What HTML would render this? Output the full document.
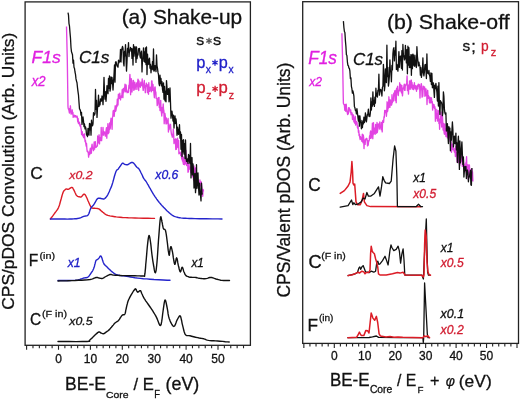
<!DOCTYPE html>
<html><head><meta charset="utf-8"><style>
html,body{margin:0;padding:0;background:#fff;width:520px;height:400px;overflow:hidden;}
svg{display:block;font-family:"Liberation Sans",sans-serif;will-change:transform;}
</style></head><body>
<svg width="520" height="400" viewBox="0 0 520 400" font-family="Liberation Sans, sans-serif"><rect width="520" height="400" fill="#fff"/><rect x="25.1" y="1.9" width="225.3" height="343.4" fill="none" stroke="#222" stroke-width="1.3"/><rect x="302.7" y="1.7" width="215.8" height="341.7" fill="none" stroke="#222" stroke-width="1.3"/><path d="M26.60 345.3 V349.8M32.98 345.3 V348.3M39.36 345.3 V348.3M45.74 345.3 V348.3M52.12 345.3 V348.3M58.50 345.3 V349.8M64.88 345.3 V348.3M71.26 345.3 V348.3M77.64 345.3 V348.3M84.02 345.3 V348.3M90.40 345.3 V349.8M96.78 345.3 V348.3M103.16 345.3 V348.3M109.54 345.3 V348.3M115.92 345.3 V348.3M122.30 345.3 V349.8M128.68 345.3 V348.3M135.06 345.3 V348.3M141.44 345.3 V348.3M147.82 345.3 V348.3M154.20 345.3 V349.8M160.58 345.3 V348.3M166.96 345.3 V348.3M173.34 345.3 V348.3M179.72 345.3 V348.3M186.10 345.3 V349.8M192.48 345.3 V348.3M198.86 345.3 V348.3M205.24 345.3 V348.3M211.62 345.3 V348.3M218.00 345.3 V349.8M224.38 345.3 V348.3M230.76 345.3 V348.3M237.14 345.3 V348.3M243.52 345.3 V348.3" stroke="#222" stroke-width="1.1" fill="none"/><path d="M303.85 343.4 V347.9M309.94 343.4 V346.4M316.03 343.4 V346.4M322.12 343.4 V346.4M328.21 343.4 V346.4M334.30 343.4 V347.9M340.39 343.4 V346.4M346.48 343.4 V346.4M352.57 343.4 V346.4M358.66 343.4 V346.4M364.75 343.4 V347.9M370.84 343.4 V346.4M376.93 343.4 V346.4M383.02 343.4 V346.4M389.11 343.4 V346.4M395.20 343.4 V347.9M401.29 343.4 V346.4M407.38 343.4 V346.4M413.47 343.4 V346.4M419.56 343.4 V346.4M425.65 343.4 V347.9M431.74 343.4 V346.4M437.83 343.4 V346.4M443.92 343.4 V346.4M450.01 343.4 V346.4M456.10 343.4 V347.9M462.19 343.4 V346.4M468.28 343.4 V346.4M474.37 343.4 V346.4M480.46 343.4 V346.4M486.55 343.4 V347.9M492.64 343.4 V346.4M498.73 343.4 V346.4M504.82 343.4 V346.4M510.91 343.4 V346.4M517.00 343.4 V347.9" stroke="#222" stroke-width="1.1" fill="none"/><g font-size="12" fill="#111" stroke="#111" stroke-width="0.3"><text x="58.50" y="362.65" text-anchor="middle">0</text><text x="90.40" y="362.65" text-anchor="middle">10</text><text x="122.30" y="362.65" text-anchor="middle">20</text><text x="154.20" y="362.65" text-anchor="middle">30</text><text x="186.10" y="362.65" text-anchor="middle">40</text><text x="218.00" y="362.65" text-anchor="middle">50</text><text x="334.30" y="360.45" text-anchor="middle">0</text><text x="364.75" y="360.45" text-anchor="middle">10</text><text x="395.20" y="360.45" text-anchor="middle">20</text><text x="425.65" y="360.45" text-anchor="middle">30</text><text x="456.10" y="360.45" text-anchor="middle">40</text><text x="486.55" y="360.45" text-anchor="middle">50</text></g><path d="M66.5 26.5L67.3 60.0L67.8 95.0L68.0 107.0L68.3 108.9L68.7 109.4L69.0 110.7L69.4 113.0L69.7 108.5L70.1 110.0L70.4 105.8L70.8 111.8L71.1 114.1L71.5 112.6L71.8 113.8L72.2 109.8L72.5 113.8L72.9 112.3L73.2 117.4L73.6 116.2L73.9 116.6L74.3 115.1L74.6 116.6L75.0 117.0L75.3 115.6L75.7 115.7L76.0 116.9L76.4 116.5L76.7 117.2L77.1 116.1L77.4 118.5L77.8 121.9L78.1 118.5L78.5 123.6L78.8 121.9L79.2 122.9L79.5 122.4L79.9 125.5L80.2 126.3L80.6 124.8L80.9 127.8L81.3 130.1L81.6 134.6L82.0 132.8L82.3 131.7L82.7 135.8L83.0 134.3L83.4 136.8L83.7 137.7L84.1 136.4L84.4 133.8L84.8 138.5L85.1 141.7L85.5 140.5L85.8 143.6L86.2 146.1L86.5 143.3L86.9 149.1L87.2 151.3L87.6 150.9L87.9 152.1L88.3 152.8L88.6 157.1L89.0 152.1L89.3 152.4L89.7 154.6L90.0 150.3L90.4 148.1L90.7 149.8L91.1 153.3L91.4 153.1L91.8 146.0L92.1 144.2L92.5 148.7L92.8 148.6L93.2 148.6L93.5 150.6L93.9 145.8L94.2 141.9L94.6 149.1L94.9 142.5L95.3 141.7L95.6 146.3L96.0 147.4L96.3 147.1L96.7 146.1L97.0 146.3L97.4 145.8L97.7 136.0L98.1 139.2L98.4 142.9L98.8 142.9L99.1 134.8L99.5 143.9L99.8 137.6L100.2 137.9L100.5 139.3L100.9 140.5L101.2 127.5L101.6 140.6L101.9 136.9L102.3 133.4L102.6 134.8L103.0 127.5L103.3 132.7L103.7 135.2L104.0 131.6L104.4 132.6L104.7 132.8L105.1 133.0L105.4 136.1L105.8 131.9L106.1 130.6L106.5 127.6L106.8 138.2L107.2 129.0L107.5 131.7L107.9 123.7L108.2 133.7L108.6 130.7L108.9 132.6L109.3 127.0L109.6 122.9L110.0 129.2L110.3 128.0L110.7 121.4L111.0 118.3L111.4 124.3L111.7 121.1L112.1 129.3L112.4 117.4L112.8 116.7L113.1 111.2L113.5 110.4L113.8 112.0L114.2 116.3L114.5 112.3L114.9 109.3L115.2 105.8L115.6 111.3L115.9 110.5L116.3 108.1L116.6 104.9L117.0 106.6L117.3 99.2L117.7 101.3L118.0 105.1L118.4 94.2L118.7 96.0L119.1 98.3L119.4 97.9L119.8 93.2L120.1 97.9L120.5 99.9L120.8 97.2L121.2 95.9L121.5 97.6L121.9 95.6L122.2 89.6L122.6 92.6L122.9 97.6L123.3 88.5L123.6 92.5L124.0 90.5L124.3 88.3L124.7 87.6L125.0 84.2L125.4 91.8L125.7 91.5L126.1 84.9L126.4 88.8L126.8 90.8L127.1 92.7L127.5 91.4L127.8 91.8L128.2 92.5L128.5 91.3L128.9 85.2L129.2 88.1L129.6 79.9L129.9 74.4L130.3 81.3L130.6 94.7L131.0 83.0L131.3 78.7L131.7 84.5L132.0 92.0L132.4 86.2L132.7 87.6L133.1 80.4L133.4 80.4L133.8 90.3L134.1 88.6L134.5 85.3L134.8 82.2L135.2 89.3L135.5 84.6L135.9 86.3L136.2 86.2L136.6 82.9L136.9 89.4L137.3 84.6L137.6 82.9L138.0 79.1L138.3 80.5L138.7 90.5L139.0 80.9L139.4 86.6L139.7 83.7L140.1 86.8L140.4 87.2L140.8 82.2L141.1 84.0L141.5 85.5L141.8 85.6L142.2 78.9L142.5 84.2L142.9 87.7L143.2 90.3L143.6 87.6L143.9 83.0L144.3 80.5L144.6 86.1L145.0 87.7L145.3 92.7L145.7 85.4L146.0 86.3L146.4 83.2L146.7 85.5L147.1 84.6L147.4 92.5L147.8 88.0L148.1 85.0L148.5 94.2L148.8 82.6L149.2 90.7L149.5 91.4L149.9 90.0L150.2 87.2L150.6 87.9L150.9 87.4L151.3 91.8L151.6 80.9L152.0 80.9L152.3 90.5L152.7 88.3L153.0 84.3L153.4 90.3L153.7 89.0L154.1 95.0L154.4 97.7L154.8 87.2L155.1 86.9L155.5 93.8L155.8 91.9L156.2 98.4L156.5 98.2L156.9 98.7L157.2 105.6L157.6 104.6L157.9 102.4L158.3 97.6L158.6 102.3L159.0 97.5L159.3 107.4L159.7 105.0L160.0 110.5L160.4 107.5L160.7 100.4L161.1 110.6L161.4 112.5L161.8 116.0L162.1 107.4L162.5 108.4L162.8 112.7L163.2 104.0L163.5 109.1L163.9 110.9L164.2 123.7L164.6 114.0L164.9 113.4L165.3 116.2L165.6 118.5L166.0 123.9L166.3 118.0L166.7 123.7L167.0 121.7L167.4 122.9L167.7 120.8L168.1 118.5L168.4 132.0L168.8 123.8L169.1 129.8L169.5 125.8L169.8 127.4L170.2 127.9L170.5 124.3L170.9 129.8L171.2 132.3L171.6 134.8L171.9 134.4L172.3 137.2L172.6 135.5L173.0 135.3L173.3 129.1L173.7 135.2L174.0 143.6L174.4 139.3L174.7 142.6L175.1 139.8L175.4 138.9L175.8 149.5L176.1 139.2L176.5 149.2L176.8 146.5L177.2 144.3L177.5 138.1L177.9 147.3L178.2 142.1L178.6 140.5L178.9 153.8L179.3 152.8L179.6 153.4L180.0 152.1L180.3 152.7L180.7 155.3L181.0 155.2L181.4 155.7L181.7 159.0L182.1 148.3L182.4 161.1L182.8 156.4L183.1 162.5L183.5 164.3L183.8 157.7L184.2 164.2L184.5 164.7L184.9 159.8L185.2 161.0L185.6 163.8L185.9 150.3L186.3 162.7L186.6 165.5L187.0 163.7L187.3 160.0L187.7 164.8L188.0 172.2L188.4 172.0L188.7 163.5L189.1 165.3L189.4 168.6L189.8 169.2L190.1 167.1L190.5 168.8L190.8 172.7L191.2 168.3L191.5 162.7L191.9 175.3L192.2 167.7L192.6 176.8L192.9 173.1L193.3 175.2L193.6 180.0L194.0 165.9L194.3 180.8L194.7 176.2L195.0 169.5L195.4 168.0L195.7 178.3L196.1 174.1L196.4 182.0L196.8 174.8L197.1 179.1L197.5 183.8L197.8 181.6L198.2 184.2L198.5 185.2L198.9 184.0L199.2 186.3L199.6 187.0L199.9 179.9L200.3 184.5L200.6 185.7L201.0 185.5L201.3 181.9L201.7 186.3L202.0 190.3L202.4 190.6L202.7 196.3L203.1 189.5L203.4 191.0L203.8 191.4" fill="none" stroke="#e244e2" stroke-width="1.35" stroke-linejoin="round"/><path d="M68.0 12.6L68.5 15.1L69.0 23.6L69.5 26.2L70.0 32.5L70.5 38.3L71.0 47.5L71.5 51.8L72.0 53.2L72.5 54.7L73.0 63.2L73.5 60.1L74.0 67.3L74.5 68.4L75.0 72.0L75.5 74.4L76.0 78.9L76.5 81.1L77.0 82.8L77.5 87.6L78.0 91.7L78.5 95.2L79.0 102.4L79.5 108.9L80.0 109.5L80.5 111.0L81.0 115.2L81.5 112.4L82.0 124.4L82.5 119.7L83.0 117.0L83.5 121.0L84.0 126.7L84.5 124.0L85.0 128.9L85.5 127.0L86.0 128.8L86.5 135.0L87.0 134.0L87.5 136.5L88.0 128.3L88.5 132.6L89.0 135.1L89.5 123.5L90.0 129.8L90.5 124.0L91.0 135.2L91.5 120.2L92.0 125.2L92.5 125.8L93.0 123.8L93.5 112.7L94.0 114.4L94.5 115.0L95.0 113.6L95.5 89.5L96.0 109.3L96.5 100.3L97.0 117.4L97.5 108.0L98.0 105.8L98.5 95.2L99.0 106.4L99.5 102.3L100.0 104.9L100.5 98.9L101.0 101.4L101.5 100.6L102.0 96.0L102.5 97.7L103.0 104.7L103.5 94.9L104.0 77.3L104.5 92.4L105.0 99.1L105.5 91.6L106.0 101.3L106.5 94.2L107.0 85.6L107.5 88.7L108.0 93.7L108.5 78.5L109.0 88.4L109.5 75.9L110.0 91.1L110.5 88.1L111.0 77.0L111.5 83.7L112.0 77.3L112.5 82.2L113.0 90.0L113.5 82.2L114.0 74.8L114.5 65.0L115.0 82.2L115.5 62.3L116.0 61.8L116.5 63.5L117.0 65.9L117.5 66.3L118.0 67.2L118.5 60.1L119.0 62.8L119.5 61.0L120.0 61.3L120.5 49.3L121.0 62.0L121.5 50.7L122.0 48.3L122.5 46.3L123.0 48.2L123.5 62.7L124.0 65.9L124.5 51.4L125.0 55.8L125.5 44.6L126.0 57.9L126.5 71.1L127.0 61.6L127.5 48.5L128.0 52.2L128.5 42.6L129.0 56.5L129.5 50.5L130.0 51.2L130.5 47.3L131.0 49.6L131.5 48.6L132.0 58.4L132.5 48.9L133.0 65.0L133.5 44.6L134.0 56.1L134.5 50.6L135.0 46.7L135.5 51.0L136.0 62.4L136.5 47.0L137.0 58.7L137.5 55.0L138.0 55.0L138.5 48.7L139.0 50.4L139.5 48.4L140.0 56.2L140.5 58.0L141.0 53.2L141.5 51.2L142.0 71.9L142.5 59.2L143.0 57.8L143.5 47.8L144.0 61.3L144.5 51.9L145.0 62.3L145.5 47.8L146.0 64.6L146.5 46.9L147.0 74.6L147.5 54.1L148.0 64.5L148.5 59.3L149.0 64.1L149.5 58.1L150.0 68.2L150.5 64.5L151.0 72.8L151.5 66.5L152.0 69.2L152.5 61.6L153.0 69.8L153.5 48.9L154.0 71.2L154.5 70.0L155.0 65.6L155.5 66.6L156.0 71.6L156.5 54.8L157.0 65.5L157.5 68.3L158.0 72.4L158.5 74.6L159.0 83.5L159.5 85.7L160.0 75.2L160.5 83.6L161.0 78.5L161.5 85.9L162.0 81.7L162.5 89.4L163.0 92.3L163.5 82.8L164.0 99.2L164.5 86.3L165.0 100.8L165.5 91.5L166.0 101.8L166.5 80.6L167.0 87.9L167.5 94.4L168.0 89.7L168.5 88.7L169.0 101.8L169.5 95.0L170.0 88.0L170.5 102.8L171.0 118.2L171.5 111.4L172.0 111.2L172.5 115.9L173.0 121.0L173.5 115.1L174.0 128.0L174.5 118.8L175.0 116.0L175.5 123.5L176.0 118.9L176.5 123.7L177.0 135.3L177.5 127.2L178.0 130.1L178.5 134.4L179.0 131.7L179.5 124.7L180.0 138.2L180.5 131.9L181.0 149.3L181.5 134.5L182.0 156.6L182.5 140.4L183.0 151.9L183.5 139.7L184.0 154.0L184.5 143.6L185.0 158.5L185.5 139.9L186.0 155.8L186.5 161.4L187.0 161.4L187.5 159.0L188.0 163.4L188.5 154.5L189.0 155.6L189.5 161.7L190.0 163.7L190.5 143.5L191.0 177.9L191.5 158.9L192.0 157.5L192.5 174.9L193.0 163.8L193.5 169.9L194.0 188.0L194.5 179.3L195.0 173.4L195.5 192.7L196.0 186.5L196.5 164.7L197.0 188.3L197.5 176.9L198.0 172.9L198.5 186.8L199.0 195.0L199.5 183.1L200.0 191.5L200.5 195.1L201.0 200.9L201.5 183.2L202.0 194.1L202.5 193.3" fill="none" stroke="#111" stroke-width="1.3" stroke-linejoin="round"/><path d="M50.4 219.0L50.9 218.3L51.7 217.3L52.6 216.1L53.5 214.8L54.4 213.6L55.2 212.5L56.1 211.4L57.0 210.2L57.8 209.0L58.5 207.6L59.1 206.0L59.7 204.2L60.2 202.3L60.7 200.5L61.2 198.8L61.6 197.3L62.0 195.8L62.4 194.4L62.8 193.2L63.2 192.1L63.7 191.2L64.2 190.5L64.8 190.0L65.3 189.5L65.9 189.2L66.4 189.0L67.0 189.1L67.5 189.2L68.0 189.3L68.6 189.2L69.2 188.9L69.9 188.4L70.6 187.9L71.3 187.5L71.9 187.4L72.4 187.6L72.8 188.0L73.1 188.6L73.5 189.3L73.9 190.1L74.4 191.1L74.9 192.3L75.5 193.5L76.0 194.6L76.6 195.5L77.2 196.0L77.7 196.4L78.3 196.6L78.8 196.7L79.3 196.8L79.7 196.9L80.1 197.0L80.5 197.1L80.9 197.0L81.3 196.8L81.8 196.4L82.4 195.7L82.9 195.0L83.5 194.4L84.0 194.1L84.4 194.2L84.8 194.4L85.2 194.8L85.6 195.5L86.0 196.2L86.5 197.2L87.0 198.3L87.6 199.7L88.1 201.0L88.7 202.2L89.2 203.4L89.7 204.6L90.3 205.8L90.8 206.8L91.4 207.6L92.0 208.0L92.7 208.2L93.4 208.3L94.1 208.2L94.8 208.3L95.6 208.4L96.4 208.4L97.2 208.5L98.0 208.6L98.8 208.9L99.6 209.4L100.4 210.1L101.3 210.9L102.1 211.6L102.9 212.3L103.7 212.9L104.4 213.5L105.2 214.1L106.0 214.6L106.9 215.0L107.9 215.4L108.8 215.6L109.9 215.9L111.1 216.1L112.3 216.3L113.6 216.5L114.9 216.7L116.3 216.9L118.0 217.1L120.0 217.3L122.5 217.5L125.3 217.6L128.3 217.8L131.6 217.9L135.0 218.0L138.9 218.1L143.4 218.2L147.9 218.3L151.8 218.4L154.5 218.4" fill="none" stroke="#dc1c26" stroke-width="1.4" stroke-linejoin="round" stroke-linecap="round"/><path d="M50.4 219.0L51.7 219.0L53.4 219.0L55.5 219.0L57.8 219.0L60.0 219.0L62.3 219.0L64.8 219.0L67.4 219.1L69.8 219.0L71.9 219.0L73.6 218.9L75.0 218.8L76.3 218.7L77.4 218.5L78.6 218.3L79.8 218.0L80.9 217.6L82.0 217.1L83.0 216.7L84.0 216.3L84.9 216.1L85.8 216.0L86.6 215.9L87.4 215.6L88.1 215.0L88.7 214.0L89.3 212.6L89.7 211.1L90.2 209.6L90.8 208.3L91.4 207.3L92.1 206.5L92.8 205.8L93.5 205.0L94.1 204.2L94.7 203.2L95.3 202.2L95.8 201.2L96.3 200.2L96.8 199.5L97.2 199.0L97.6 198.6L97.9 198.4L98.3 198.3L98.8 198.2L99.4 198.2L100.1 198.3L100.9 198.5L101.6 198.7L102.2 198.8L102.7 198.9L103.1 199.0L103.4 199.0L103.8 199.0L104.2 198.8L104.7 198.5L105.2 198.1L105.8 197.6L106.3 196.9L106.9 196.2L107.4 195.3L108.0 194.3L108.5 193.2L109.1 192.0L109.6 190.8L110.1 189.5L110.7 188.2L111.3 186.9L111.8 185.5L112.3 184.0L112.8 182.4L113.2 180.8L113.7 179.1L114.1 177.5L114.5 176.0L114.9 174.7L115.3 173.4L115.7 172.3L116.1 171.3L116.5 170.5L116.8 170.0L117.1 169.8L117.4 169.6L117.7 169.5L118.0 169.2L118.4 168.7L118.8 168.1L119.3 167.5L119.7 166.8L120.2 166.2L120.7 165.5L121.1 164.8L121.6 164.1L122.0 163.5L122.5 163.2L122.9 163.2L123.3 163.4L123.8 163.7L124.2 164.1L124.7 164.3L125.3 164.5L125.9 164.6L126.5 164.7L127.1 164.8L127.7 164.7L128.2 164.5L128.7 164.2L129.1 163.8L129.6 163.5L130.0 163.2L130.4 163.0L130.8 162.8L131.1 162.6L131.4 162.5L131.8 162.5L132.2 162.5L132.5 162.5L132.9 162.6L133.2 162.8L133.7 163.2L134.2 163.8L134.9 164.6L135.5 165.5L136.1 166.3L136.7 167.0L137.2 167.5L137.7 167.8L138.1 168.1L138.5 168.4L139.0 169.0L139.5 169.8L140.0 170.7L140.5 171.7L141.0 172.8L141.5 173.8L142.0 174.8L142.5 175.8L142.9 176.9L143.4 177.8L143.9 178.7L144.4 179.4L144.9 180.0L145.3 180.6L145.9 181.2L146.4 182.0L147.0 183.0L147.6 184.1L148.3 185.2L148.9 186.4L149.6 187.6L150.3 188.7L150.9 189.9L151.6 191.1L152.2 192.2L152.9 193.3L153.5 194.3L154.2 195.3L154.8 196.3L155.5 197.3L156.1 198.2L156.7 199.1L157.4 200.0L158.0 200.8L158.7 201.7L159.4 202.6L160.2 203.5L161.0 204.5L161.8 205.4L162.7 206.3L163.5 207.2L164.3 208.0L165.1 208.8L165.8 209.6L166.6 210.4L167.5 211.2L168.4 212.0L169.4 212.9L170.4 213.8L171.4 214.6L172.4 215.3L173.4 215.8L174.3 216.3L175.2 216.6L176.2 216.9L177.3 217.2L178.4 217.5L179.6 217.7L180.8 217.9L182.2 218.1L183.8 218.2L185.5 218.3L187.2 218.4L189.2 218.5L191.7 218.5L195.0 218.6L199.8 218.7L206.0 218.8L212.4 218.9L218.1 218.9L222.0 219.0" fill="none" stroke="#2424cc" stroke-width="1.4" stroke-linejoin="round" stroke-linecap="round"/><path d="M58.0 280.5L59.7 280.5L62.1 280.5L64.9 280.5L67.7 280.5L70.0 280.5L71.9 280.4L73.7 280.4L75.4 280.3L76.8 280.1L78.0 280.0L78.9 279.8L79.6 279.6L80.0 279.4L80.5 279.2L81.0 279.0L81.6 278.8L82.2 278.6L82.8 278.4L83.4 278.2L84.0 278.0L84.6 277.9L85.2 277.8L85.9 277.7L86.5 277.7L87.0 277.5L87.5 277.3L87.8 277.1L88.2 276.8L88.6 276.4L89.0 276.0L89.5 275.4L90.0 274.7L90.5 274.0L91.0 273.2L91.5 272.5L91.9 271.8L92.4 271.2L92.8 270.5L93.1 269.8L93.5 269.0L93.8 268.1L94.2 267.0L94.5 266.0L94.7 264.9L95.0 264.0L95.2 263.2L95.4 262.4L95.6 261.6L95.8 261.0L96.0 260.5L96.3 260.1L96.6 259.9L96.9 259.8L97.2 259.7L97.5 259.5L97.8 259.2L98.1 259.0L98.4 258.7L98.7 258.3L99.0 258.0L99.3 257.6L99.6 257.1L99.9 256.6L100.2 256.2L100.5 256.0L100.7 256.0L100.9 256.1L101.1 256.3L101.3 256.6L101.5 257.0L101.7 257.5L101.9 258.0L102.1 258.6L102.3 259.3L102.5 260.0L102.8 260.8L103.0 261.6L103.3 262.5L103.7 263.3L104.0 264.0L104.4 264.5L104.7 264.9L105.1 265.2L105.5 265.6L106.0 266.0L106.5 266.5L107.1 267.1L107.7 267.7L108.3 268.4L109.0 269.0L109.8 269.7L110.6 270.4L111.4 271.2L112.2 271.9L113.0 272.5L113.6 273.0L114.2 273.5L114.8 273.8L115.4 274.2L116.0 274.5L116.7 274.8L117.5 275.0L118.3 275.2L119.1 275.3L120.0 275.5L120.9 275.6L121.7 275.7L122.6 275.7L123.7 275.8L125.0 276.0L126.6 276.3L128.4 276.6L130.4 277.0L132.6 277.4L135.0 277.8L137.6 278.1L140.4 278.4L143.4 278.7L146.6 278.9L150.0 279.2L154.0 279.5L158.6 279.7L163.2 280.0L167.2 280.2L170.0 280.3" fill="none" stroke="#2424cc" stroke-width="1.4" stroke-linejoin="round" stroke-linecap="round"/><path d="M58.0 281.0L60.3 280.9L63.7 280.9L67.5 280.8L71.5 280.6L75.0 280.5L78.3 280.3L81.6 280.2L84.7 280.0L87.6 279.8L90.0 279.5L91.8 279.1L93.2 278.7L94.2 278.2L95.1 277.8L96.0 277.5L96.8 277.4L97.4 277.5L97.9 277.7L98.4 277.9L99.0 278.0L99.6 278.1L100.2 278.3L100.8 278.4L101.4 278.5L102.0 278.5L102.6 278.3L103.1 278.1L103.7 277.8L104.3 277.4L105.0 277.0L105.9 276.5L107.0 275.9L108.0 275.3L109.1 274.8L110.0 274.5L110.7 274.4L111.2 274.5L111.6 274.7L112.2 274.9L113.0 275.0L114.0 275.1L115.1 275.2L116.4 275.3L118.0 275.4L120.0 275.5L122.6 275.6L125.7 275.6L129.1 275.7L132.3 275.7L135.0 275.8L137.2 275.9L139.2 275.9L140.9 276.0L142.4 276.0L143.5 276.0L144.2 276.1L144.5 276.3L144.6 276.3L144.6 276.0L144.7 275.0L145.0 273.2L145.2 270.9L145.5 268.1L145.7 265.0L146.0 262.0L146.3 258.7L146.6 255.1L146.9 251.5L147.2 248.0L147.5 245.0L147.8 242.4L148.1 239.9L148.4 237.8L148.7 236.3L149.0 235.5L149.3 235.7L149.6 236.6L149.9 238.2L150.2 240.0L150.5 242.0L150.8 244.2L151.1 246.9L151.4 249.7L151.7 252.5L152.0 255.0L152.3 257.2L152.6 259.3L152.9 261.3L153.2 263.2L153.5 265.0L153.9 267.0L154.2 269.2L154.6 271.1L155.0 272.5L155.4 272.8L155.7 272.0L156.1 270.4L156.4 268.0L156.7 265.2L157.0 262.0L157.3 258.3L157.6 254.0L157.9 249.4L158.2 244.6L158.5 240.0L158.9 235.1L159.3 229.7L159.7 224.6L160.1 220.3L160.5 217.5L160.8 216.6L161.1 217.3L161.4 218.8L161.7 220.5L162.0 222.0L162.3 223.2L162.5 224.7L162.8 226.1L163.1 227.5L163.4 228.5L163.8 229.1L164.2 229.3L164.7 229.4L165.1 229.7L165.5 230.5L165.8 231.8L166.1 233.5L166.4 235.4L166.7 237.6L167.0 240.0L167.4 243.0L167.8 246.6L168.2 250.2L168.7 253.2L169.0 255.0L169.3 255.3L169.5 254.4L169.6 252.8L169.8 251.2L170.0 250.0L170.2 249.1L170.4 248.1L170.6 247.2L170.8 246.7L171.0 246.6L171.3 247.0L171.5 247.8L171.8 248.9L172.1 250.3L172.5 252.0L172.9 254.3L173.3 257.4L173.8 260.5L174.3 263.0L174.7 264.4L175.1 264.1L175.5 262.4L175.9 260.3L176.2 258.5L176.6 257.8L177.0 258.5L177.4 260.1L177.7 262.2L178.1 264.3L178.5 266.0L178.9 267.5L179.2 269.0L179.6 270.4L179.9 271.4L180.3 271.9L180.7 271.5L181.1 270.3L181.4 268.9L181.8 267.7L182.2 267.2L182.6 267.6L182.9 268.5L183.3 269.7L183.6 271.0L184.0 272.0L184.4 272.8L184.7 273.6L185.0 274.4L185.5 275.0L186.0 275.6L186.6 276.1L187.4 276.4L188.2 276.7L189.0 277.0L190.0 277.2L191.1 277.3L192.4 277.4L193.6 277.4L194.9 277.4L196.0 277.5L196.9 277.7L197.6 277.9L198.4 278.1L199.1 278.3L200.0 278.4L201.1 278.5L202.3 278.6L203.6 278.7L204.8 278.7L206.0 278.6L207.0 278.4L208.0 278.1L208.9 277.7L209.8 277.5L210.8 277.4L211.8 277.5L212.8 277.8L213.8 278.2L214.9 278.6L216.0 279.0L217.1 279.3L218.3 279.6L219.5 279.9L220.7 280.2L222.0 280.4L223.5 280.5L225.3 280.5L227.0 280.5L228.5 280.5L229.5 280.5" fill="none" stroke="#111" stroke-width="1.4" stroke-linejoin="round" stroke-linecap="round"/><path d="M58.0 341.5L62.4 341.5L68.8 341.5L76.0 341.6L82.5 341.5L87.0 341.5L89.1 341.4L89.7 341.3L89.5 341.2L89.0 341.1L89.0 340.8L89.5 340.5L89.9 340.1L90.4 339.6L90.9 339.1L91.5 338.5L92.1 337.9L92.8 337.2L93.5 336.4L94.3 335.7L95.0 335.0L95.8 334.3L96.6 333.6L97.4 332.9L98.1 332.3L98.8 332.0L99.3 331.9L99.8 332.1L100.2 332.4L100.6 332.8L101.0 333.0L101.5 333.2L102.0 333.4L102.6 333.6L103.1 333.7L103.7 333.7L104.3 333.5L104.8 333.1L105.4 332.7L105.9 332.2L106.5 331.8L107.1 331.4L107.7 331.0L108.3 330.6L108.8 330.1L109.4 329.6L109.9 329.0L110.4 328.4L110.9 327.8L111.5 327.2L112.0 326.5L112.6 325.8L113.2 325.1L113.8 324.3L114.4 323.6L115.0 323.0L115.7 322.5L116.4 322.0L117.0 321.6L117.7 321.2L118.3 320.7L118.8 320.1L119.3 319.5L119.7 318.8L120.1 318.1L120.5 317.5L120.9 316.9L121.3 316.4L121.6 315.9L122.0 315.4L122.4 315.0L122.9 314.8L123.4 314.8L123.9 314.8L124.4 314.6L124.8 314.1L125.2 313.2L125.5 312.1L125.7 310.7L126.0 309.4L126.3 308.0L126.6 306.7L126.9 305.3L127.3 303.9L127.6 302.5L128.1 301.1L128.6 299.8L129.3 298.4L129.9 297.1L130.6 295.8L131.3 294.6L132.1 293.3L132.9 292.0L133.7 290.7L134.5 289.7L135.1 289.0L135.5 288.8L135.8 289.1L136.1 289.5L136.3 290.1L136.5 290.5L136.7 290.9L137.0 291.3L137.2 291.7L137.5 292.1L137.8 292.2L138.2 292.0L138.8 291.6L139.3 291.0L139.8 290.7L140.3 290.6L140.7 290.9L141.0 291.5L141.3 292.3L141.6 293.2L142.0 294.0L142.4 294.8L142.8 295.8L143.3 296.7L143.7 297.7L144.3 298.7L145.0 299.7L145.7 300.8L146.5 301.9L147.2 302.9L148.0 304.0L148.7 305.0L149.4 306.0L150.1 307.0L150.9 308.1L151.7 309.3L152.6 310.7L153.6 312.3L154.6 314.0L155.6 315.7L156.5 317.4L157.4 319.4L158.3 321.7L159.1 323.9L159.9 325.3L160.6 325.5L161.2 324.1L161.7 321.4L162.2 318.0L162.6 314.5L163.0 311.5L163.4 308.7L163.8 305.8L164.2 303.1L164.6 301.1L165.0 300.0L165.4 300.1L165.8 301.3L166.2 303.0L166.6 305.0L167.0 307.0L167.4 309.1L167.8 311.4L168.1 313.9L168.6 316.4L169.2 318.5L170.0 320.6L170.9 322.7L171.9 324.5L172.9 325.9L173.8 326.5L174.6 326.0L175.3 324.7L176.0 322.8L176.6 321.0L177.3 319.6L177.9 318.5L178.6 317.3L179.2 316.3L179.8 315.8L180.3 316.0L180.8 317.1L181.2 318.8L181.7 321.0L182.1 323.3L182.6 325.4L183.1 327.4L183.6 329.5L184.1 331.5L184.7 333.3L185.4 334.6L186.1 335.3L186.9 335.6L187.7 335.6L188.8 335.6L190.0 335.8L191.6 336.2L193.6 336.7L195.6 337.2L197.6 337.6L199.2 338.0L200.4 338.2L201.4 338.4L202.2 338.5L202.9 338.6L203.8 338.8L204.7 339.1L205.5 339.4L206.3 339.8L207.3 340.1L208.5 340.4L210.0 340.6L211.7 340.7L213.6 340.8L215.6 340.9L217.7 341.0L220.0 341.2L222.7 341.4L225.3 341.7L227.6 341.9L229.2 342.0" fill="none" stroke="#111" stroke-width="1.4" stroke-linejoin="round" stroke-linecap="round"/><path d="M341.9 33.3L342.7 64.4L343.2 94.8L343.4 103.2L343.7 104.1L344.1 104.6L344.4 105.5L344.8 110.3L345.1 104.5L345.5 110.2L345.8 111.2L346.2 104.2L346.5 107.8L346.9 110.5L347.2 112.3L347.6 114.5L347.9 112.1L348.3 113.9L348.6 107.7L349.0 109.3L349.3 107.8L349.7 109.3L350.0 111.2L350.4 112.6L350.7 109.9L351.1 114.7L351.4 113.2L351.8 112.7L352.1 113.1L352.5 119.5L352.8 116.3L353.2 114.8L353.5 115.4L353.9 121.9L354.2 117.6L354.6 122.0L354.9 123.4L355.3 116.3L355.6 125.1L356.0 122.6L356.3 121.5L356.7 123.6L357.0 122.4L357.4 127.4L357.7 128.3L358.1 126.2L358.4 132.2L358.8 130.6L359.1 135.6L359.5 134.3L359.8 137.9L360.2 139.5L360.5 136.6L360.9 138.2L361.2 138.3L361.6 139.3L361.9 141.3L362.3 134.1L362.6 139.3L363.0 142.7L363.3 135.0L363.7 137.9L364.0 148.6L364.4 139.8L364.7 141.7L365.1 144.4L365.4 140.9L365.8 139.0L366.1 139.7L366.5 139.4L366.8 138.3L367.2 140.7L367.5 145.9L367.9 140.6L368.2 145.2L368.6 141.3L368.9 141.3L369.3 139.9L369.6 135.8L370.0 138.3L370.3 132.4L370.7 131.0L371.0 138.3L371.4 137.1L371.7 135.7L372.1 131.3L372.4 123.2L372.8 138.7L373.1 131.9L373.5 122.7L373.8 134.0L374.2 127.9L374.5 133.3L374.9 129.6L375.2 134.3L375.6 124.5L375.9 130.0L376.3 129.1L376.6 133.2L377.0 122.4L377.3 132.3L377.7 129.9L378.0 124.3L378.4 126.2L378.7 124.0L379.1 125.7L379.4 129.0L379.8 121.9L380.1 127.4L380.5 127.8L380.8 126.2L381.2 129.7L381.5 122.5L381.9 125.2L382.2 131.9L382.6 121.6L382.9 120.4L383.3 120.5L383.6 122.3L384.0 116.7L384.3 117.5L384.7 110.5L385.0 112.6L385.4 111.9L385.7 110.4L386.1 112.5L386.4 116.3L386.8 110.9L387.1 101.8L387.5 111.5L387.8 110.1L388.2 102.6L388.5 108.0L388.9 96.8L389.2 102.9L389.6 101.7L389.9 107.4L390.3 99.8L390.6 101.2L391.0 102.5L391.3 105.2L391.7 104.8L392.0 94.7L392.4 102.8L392.7 98.3L393.1 101.3L393.4 100.2L393.8 93.2L394.1 95.1L394.5 93.3L394.8 90.8L395.2 100.6L395.5 93.6L395.9 90.3L396.2 102.7L396.6 88.3L396.9 92.2L397.3 91.8L397.6 86.3L398.0 94.6L398.3 95.5L398.7 90.5L399.0 90.8L399.4 89.6L399.7 82.8L400.1 90.9L400.4 84.5L400.8 85.5L401.1 90.9L401.5 92.9L401.8 85.3L402.2 93.4L402.5 95.8L402.9 89.1L403.2 87.9L403.6 88.9L403.9 86.2L404.3 84.2L404.6 90.3L405.0 90.4L405.3 85.3L405.7 85.5L406.0 84.5L406.4 84.1L406.7 82.9L407.1 75.9L407.4 90.5L407.8 85.3L408.1 87.0L408.5 94.1L408.8 84.6L409.2 89.0L409.5 81.0L409.9 83.9L410.2 89.3L410.6 85.4L410.9 80.5L411.3 80.1L411.6 87.8L412.0 82.5L412.3 89.2L412.7 87.5L413.0 85.1L413.4 86.2L413.7 89.6L414.1 86.7L414.4 82.7L414.8 88.1L415.1 85.3L415.5 85.9L415.8 89.3L416.2 88.4L416.5 91.3L416.9 86.4L417.2 85.4L417.6 86.0L417.9 89.0L418.3 84.3L418.6 86.2L419.0 84.3L419.3 84.7L419.7 87.3L420.0 98.0L420.4 86.8L420.7 89.5L421.1 84.1L421.4 83.8L421.8 89.1L422.1 97.1L422.5 88.4L422.8 96.2L423.2 86.2L423.5 86.7L423.9 88.0L424.2 89.1L424.6 86.9L424.9 96.3L425.3 93.8L425.6 94.6L426.0 88.8L426.3 95.4L426.7 91.9L427.0 104.5L427.4 94.9L427.7 90.3L428.1 98.3L428.4 95.4L428.8 96.4L429.1 97.1L429.5 102.8L429.8 97.1L430.2 100.2L430.5 102.9L430.9 100.7L431.2 97.6L431.6 99.1L431.9 103.0L432.3 101.6L432.6 110.1L433.0 107.0L433.3 107.5L433.7 104.3L434.0 104.7L434.4 108.2L434.7 106.5L435.1 108.4L435.4 121.2L435.8 109.8L436.1 109.4L436.5 118.2L436.8 117.2L437.2 113.7L437.5 121.1L437.9 110.3L438.2 114.9L438.6 110.9L438.9 123.6L439.3 118.9L439.6 129.3L440.0 121.8L440.3 122.6L440.7 116.8L441.0 112.0L441.4 120.7L441.7 127.0L442.1 119.9L442.4 115.2L442.8 122.7L443.1 130.0L443.5 123.4L443.8 129.7L444.2 133.2L444.5 134.2L444.9 124.0L445.2 131.3L445.6 128.7L445.9 136.5L446.3 133.7L446.6 129.2L447.0 135.2L447.3 137.9L447.7 129.9L448.0 131.4L448.4 134.9L448.7 137.1L449.1 136.8L449.4 132.4L449.8 134.3L450.1 141.3L450.5 137.4L450.8 139.5L451.2 144.5L451.5 152.3L451.9 144.6L452.2 144.5L452.6 144.1L452.9 149.6L453.3 149.3L453.6 150.1L454.0 148.1L454.3 151.9L454.7 152.4L455.0 150.7L455.4 156.5L455.7 146.0L456.1 155.7L456.4 152.7L456.8 152.7L457.1 161.9L457.5 154.8L457.8 146.9L458.2 155.4L458.5 161.6L458.9 162.7L459.2 157.6L459.6 160.0L459.9 165.1L460.3 160.4L460.6 152.6L461.0 151.3L461.3 157.5L461.7 161.5L462.0 158.1L462.4 166.4L462.7 159.3L463.1 163.8L463.4 159.4L463.8 168.0L464.1 163.8L464.5 169.3L464.8 166.5L465.2 171.7L465.5 169.3L465.9 162.6L466.2 162.9L466.6 156.7L466.9 173.4L467.3 173.1L467.6 172.7L468.0 164.6L468.3 179.5L468.7 167.7L469.0 174.6L469.4 165.0L469.7 169.8L470.1 178.0L470.4 177.8L470.8 169.8L471.1 174.6L471.5 180.3L471.8 168.9L472.2 180.4L472.5 171.7L472.9 181.5" fill="none" stroke="#e244e2" stroke-width="1.35" stroke-linejoin="round"/><path d="M343.4 21.1L343.9 27.5L344.4 31.5L344.9 32.5L345.4 40.6L345.9 46.3L346.4 54.7L346.9 55.5L347.4 61.8L347.9 65.3L348.4 65.7L348.9 68.0L349.4 68.4L349.9 71.2L350.4 78.7L350.9 77.8L351.4 86.3L351.9 88.7L352.4 93.1L352.9 90.9L353.4 93.1L353.9 96.2L354.4 106.4L354.9 107.7L355.4 110.5L355.9 110.1L356.4 113.9L356.9 108.7L357.4 112.4L357.9 117.3L358.4 121.1L358.9 115.9L359.4 126.1L359.9 115.9L360.4 122.3L360.9 122.3L361.4 128.8L361.9 120.5L362.4 127.7L362.9 121.8L363.4 123.9L363.9 117.1L364.4 122.5L364.9 120.6L365.4 112.9L365.9 117.3L366.4 121.8L366.9 117.9L367.4 114.6L367.9 113.4L368.4 109.1L368.9 116.2L369.4 114.4L369.9 116.5L370.4 112.4L370.9 97.8L371.4 110.0L371.9 102.0L372.4 106.2L372.9 91.8L373.4 104.6L373.9 100.5L374.4 106.4L374.9 97.1L375.4 103.2L375.9 88.2L376.4 96.0L376.9 93.5L377.4 97.0L377.9 90.2L378.4 90.8L378.9 74.2L379.4 95.2L379.9 92.1L380.4 89.4L380.9 89.7L381.4 90.9L381.9 96.0L382.4 87.3L382.9 86.3L383.4 64.4L383.9 74.8L384.4 90.8L384.9 86.1L385.4 68.8L385.9 78.9L386.4 82.6L386.9 45.2L387.4 76.5L387.9 67.4L388.4 86.1L388.9 82.3L389.4 76.0L389.9 59.9L390.4 71.6L390.9 71.5L391.4 81.8L391.9 65.4L392.4 69.9L392.9 53.7L393.4 49.0L393.9 47.7L394.4 60.9L394.9 50.8L395.4 55.0L395.9 41.2L396.4 69.5L396.9 64.4L397.4 67.1L397.9 71.2L398.4 63.7L398.9 51.7L399.4 67.3L399.9 58.5L400.4 56.1L400.9 56.2L401.4 68.3L401.9 50.6L402.4 70.0L402.9 44.5L403.4 55.1L403.9 56.1L404.4 59.9L404.9 58.6L405.4 45.4L405.9 55.5L406.4 62.9L406.9 49.6L407.4 73.8L407.9 46.2L408.4 65.1L408.9 47.7L409.4 67.5L409.9 57.0L410.4 67.5L410.9 54.7L411.4 75.3L411.9 55.0L412.4 68.7L412.9 54.1L413.4 55.4L413.9 65.4L414.4 66.2L414.9 55.1L415.4 62.7L415.9 66.1L416.4 67.5L416.9 46.7L417.4 56.3L417.9 61.1L418.4 65.9L418.9 62.2L419.4 65.4L419.9 65.7L420.4 75.2L420.9 67.7L421.4 77.3L421.9 74.0L422.4 70.5L422.9 57.8L423.4 72.5L423.9 75.9L424.4 72.0L424.9 65.0L425.4 64.4L425.9 69.6L426.4 78.5L426.9 54.0L427.4 73.2L427.9 72.5L428.4 73.8L428.9 70.3L429.4 74.9L429.9 76.7L430.4 81.4L430.9 72.9L431.4 84.5L431.9 73.4L432.4 87.8L432.9 83.0L433.4 82.9L433.9 90.8L434.4 97.4L434.9 85.1L435.4 88.6L435.9 83.4L436.4 88.1L436.9 92.2L437.4 101.0L437.9 86.2L438.4 106.0L438.9 82.6L439.4 103.7L439.9 114.4L440.4 100.7L440.9 102.6L441.4 102.1L441.9 104.6L442.4 115.7L442.9 112.4L443.4 91.8L443.9 96.4L444.4 109.2L444.9 113.1L445.4 114.3L445.9 112.9L446.4 131.0L446.9 128.2L447.4 123.6L447.9 134.5L448.4 143.5L448.9 126.6L449.4 131.2L449.9 128.1L450.4 150.8L450.9 131.9L451.4 140.1L451.9 130.6L452.4 122.0L452.9 129.7L453.4 146.9L453.9 141.6L454.4 136.1L454.9 143.5L455.4 143.8L455.9 133.1L456.4 149.9L456.9 142.9L457.4 162.6L457.9 143.2L458.4 136.2L458.9 149.1L459.4 169.4L459.9 141.0L460.4 162.9L460.9 157.4L461.4 148.5L461.9 141.9L462.4 154.5L462.9 164.7L463.4 156.9L463.9 177.0L464.4 170.8L464.9 166.7L465.4 170.3L465.9 166.4L466.4 178.5L466.9 171.6L467.4 170.0L467.9 172.3L468.4 181.8L468.9 177.3L469.4 176.9L469.9 173.5L470.4 170.5L470.9 185.0L471.4 185.3L471.9 168.0" fill="none" stroke="#111" stroke-width="1.3" stroke-linejoin="round"/><path d="M340.2 193.4L344.4 190.6L348.1 186.0L350.0 182.2L351.2 172.0L351.9 161.6L352.6 172.0L353.0 183.1L353.8 185.0L354.7 184.0L356.0 201.9L357.5 204.7L360.3 204.7L362.2 200.0L363.5 193.4L364.4 201.9L366.9 205.6L370.6 206.6L421.0 206.7" fill="none" stroke="#dc1c26" stroke-width="1.5" stroke-linejoin="round" stroke-linecap="round"/><path d="M340.2 207.1L348.1 205.6L351.5 200.0L352.8 204.7L353.8 202.8L355.6 204.7L358.4 203.8L361.2 201.9L363.1 198.1L365.0 199.0L366.9 192.5L368.4 196.2L370.6 196.2L374.4 193.4L377.2 188.8L378.5 186.9L380.0 196.2L381.5 186.9L382.8 176.6L384.1 180.3L385.6 182.8L389.4 183.5L391.2 181.2L393.1 158.8L394.6 146.0L395.9 151.2L396.9 177.5L397.4 206.6L416.0 206.7L418.5 204.3L421.0 206.7L422.5 206.7" fill="none" stroke="#111" stroke-width="1.3" stroke-linejoin="round" stroke-linecap="round"/><path d="M348.1 275.6L355.0 273.8L357.5 272.5L358.8 268.1L359.8 266.9L360.6 269.4L361.9 266.9L363.1 265.6L364.4 268.8L365.6 271.9L369.4 272.5L371.2 271.2L373.8 272.2L375.6 271.2L376.9 261.9L377.8 261.2L378.8 264.4L380.0 263.8L382.5 260.6L385.0 256.2L386.2 259.4L388.1 265.0L390.0 250.0L391.0 245.0L391.9 247.5L393.8 250.6L396.2 249.4L398.1 246.2L399.4 251.2L400.6 263.1L401.9 253.8L403.1 248.8L404.0 260.0L404.8 275.0L422.0 275.2L423.4 279.0L424.2 260.0L426.3 219.0L427.0 250.0L427.6 272.0L428.5 275.2L430.0 275.2" fill="none" stroke="#111" stroke-width="1.3" stroke-linejoin="round" stroke-linecap="round"/><path d="M348.1 275.6L352.5 274.8L356.2 273.1L358.1 272.2L359.4 273.1L361.9 271.2L363.8 271.9L365.0 273.8L366.2 272.5L368.8 272.5L370.0 270.0L370.6 253.8L371.2 246.2L372.2 251.2L373.1 252.5L374.4 253.8L375.6 258.8L376.9 263.1L377.8 267.5L378.5 273.8L380.0 275.0L386.2 275.0L392.5 273.8L397.5 272.5L400.0 273.1L403.1 272.2L405.0 275.0L422.0 275.2L423.3 277.0L424.0 275.0L424.6 245.0L425.2 230.0L426.2 236.0L427.0 262.0L428.0 272.0L429.0 274.5L430.5 275.2" fill="none" stroke="#dc1c26" stroke-width="1.5" stroke-linejoin="round" stroke-linecap="round"/><path d="M347.9 337.7L369.0 337.5L372.5 336.9L376.4 336.0L378.6 337.4L400.0 337.7L422.9 337.7L423.3 342.5L423.7 338.0L424.6 283.0L425.5 300.0L427.3 333.8L428.0 337.7L429.0 337.7" fill="none" stroke="#111" stroke-width="1.3" stroke-linejoin="round" stroke-linecap="round"/><path d="M347.9 337.7L356.5 337.3L358.0 335.0L359.4 332.1L360.5 334.5L361.6 335.6L363.8 335.6L365.9 330.4L367.7 330.8L369.0 333.0L370.2 322.0L371.2 312.9L372.9 318.1L374.7 320.3L376.4 316.4L377.7 322.5L379.1 333.9L380.4 336.0L386.0 337.0L390.0 336.6L394.0 337.3L398.0 336.9L402.7 337.3L422.9 337.7L424.2 335.8L425.8 336.7L427.7 335.8L429.6 337.7" fill="none" stroke="#dc1c26" stroke-width="1.5" stroke-linejoin="round" stroke-linecap="round"/><g transform="translate(121.63 23.59) scale(1.018 1.013)"><text x="0" y="0" font-size="20.5" fill="#111" stroke="#111" stroke-width="0.3">(a) Shake-up</text></g><g transform="translate(196.30 45.26) scale(1.000 0.949)"><text x="0" y="0" font-size="16" fill="#111" stroke="#111" stroke-width="0.3">s</text></g><g transform="translate(212.99 45.26) scale(1.029 0.949)"><text x="0" y="0" font-size="16" fill="#111" stroke="#111" stroke-width="0.3">s</text></g><g transform="translate(196.23 67.74) scale(0.968 0.988)"><text x="0" y="0" font-size="17" fill="#2020c8" stroke="#2020c8" stroke-width="0.3">p</text></g><g transform="translate(205.77 72.94) scale(0.995 0.995)"><text x="0" y="0" font-size="10.5" fill="#2020c8" stroke="#2020c8" stroke-width="0.3">x</text></g><g transform="translate(218.85 67.74) scale(0.955 0.988)"><text x="0" y="0" font-size="17" fill="#2020c8" stroke="#2020c8" stroke-width="0.3">p</text></g><g transform="translate(228.42 72.88) scale(0.975 0.975)"><text x="0" y="0" font-size="10.5" fill="#2020c8" stroke="#2020c8" stroke-width="0.3">x</text></g><g transform="translate(196.21 93.28) scale(0.994 0.949)"><text x="0" y="0" font-size="17" fill="#d21e32" stroke="#d21e32" stroke-width="0.3">p</text></g><g transform="translate(206.33 98.82) scale(0.988 0.988)"><text x="0" y="0" font-size="10.5" fill="#d21e32" stroke="#d21e32" stroke-width="0.3">z</text></g><g transform="translate(218.62 93.28) scale(0.981 0.949)"><text x="0" y="0" font-size="17" fill="#d21e32" stroke="#d21e32" stroke-width="0.3">p</text></g><g transform="translate(228.67 98.88) scale(1.010 1.010)"><text x="0" y="0" font-size="10.5" fill="#d21e32" stroke="#d21e32" stroke-width="0.3">z</text></g><g transform="translate(31.45 63.03) scale(1.095 1.076)"><text x="0" y="0" font-size="16" fill="#e020e0" stroke="#e020e0" stroke-width="0.3" font-style="italic">F1s</text></g><g transform="translate(31.76 85.80) scale(1.011 1.056)"><text x="0" y="0" font-size="13" fill="#e020e0" stroke="#e020e0" stroke-width="0.3" font-style="italic">x2</text></g><g transform="translate(78.94 63.43) scale(1.073 1.078)"><text x="0" y="0" font-size="16" fill="#111" stroke="#111" stroke-width="0.3" font-style="italic">C1s</text></g><g transform="translate(30.13 178.84) scale(1.023 1.020)"><text x="0" y="0" font-size="17" fill="#111" stroke="#111" stroke-width="0.3">C</text></g><g transform="translate(69.31 179.26) scale(1.026 0.949)"><text x="0" y="0" font-size="12" fill="#d21e32" stroke="#d21e32" stroke-width="0.3" font-style="italic">x0.2</text></g><g transform="translate(155.31 179.24) scale(1.015 1.029)"><text x="0" y="0" font-size="12" fill="#2020c8" stroke="#2020c8" stroke-width="0.3" font-style="italic">x0.6</text></g><g transform="translate(28.72 266.20) scale(0.945 1.017)"><text x="0" y="0" font-size="16.5" fill="#111" stroke="#111" stroke-width="0.3">F</text></g><g transform="translate(39.41 258.76) scale(0.983 0.820)"><text x="0" y="0" font-size="11" fill="#111" stroke="#111" stroke-width="0.3">(in)</text></g><g transform="translate(67.74 266.50) scale(0.980 1.086)"><text x="0" y="0" font-size="12.5" fill="#2020c8" stroke="#2020c8" stroke-width="0.3" font-style="italic">x1</text></g><g transform="translate(191.47 266.75) scale(0.940 1.000)"><text x="0" y="0" font-size="12.5" fill="#111" stroke="#111" stroke-width="0.3" font-style="italic">x1</text></g><g transform="translate(30.02 324.65) scale(0.912 0.988)"><text x="0" y="0" font-size="17" fill="#111" stroke="#111" stroke-width="0.3">C</text></g><g transform="translate(41.91 316.52) scale(0.980 0.878)"><text x="0" y="0" font-size="11" fill="#111" stroke="#111" stroke-width="0.3">(F in)</text></g><g transform="translate(69.31 324.67) scale(1.024 0.926)"><text x="0" y="0" font-size="12" fill="#111" stroke="#111" stroke-width="0.3" font-style="italic">x0.5</text></g><g transform="translate(386.90 29.31) scale(1.039 0.987)"><text x="0" y="0" font-size="20.5" fill="#111" stroke="#111" stroke-width="0.3">(b) Shake-off</text></g><g transform="translate(462.48 50.65) scale(1.031 0.982)"><text x="0" y="0" font-size="15" fill="#111" stroke="#111" stroke-width="0.3">s</text></g><g transform="translate(471.14 51.74) scale(1.080 1.080)"><text x="0" y="0" font-size="15" fill="#111" stroke="#111" stroke-width="0.3">;</text></g><g transform="translate(480.88 50.59) scale(0.919 0.973)"><text x="0" y="0" font-size="15" fill="#d21e32" stroke="#d21e32" stroke-width="0.3">p</text></g><g transform="translate(490.74 56.29) scale(1.100 1.100)"><text x="0" y="0" font-size="10" fill="#d21e32" stroke="#d21e32" stroke-width="0.3">z</text></g><g transform="translate(308.16 64.03) scale(1.080 1.093)"><text x="0" y="0" font-size="16" fill="#e020e0" stroke="#e020e0" stroke-width="0.3" font-style="italic">F1s</text></g><g transform="translate(309.17 85.60) scale(0.936 1.044)"><text x="0" y="0" font-size="13" fill="#e020e0" stroke="#e020e0" stroke-width="0.3" font-style="italic">x2</text></g><g transform="translate(353.01 64.63) scale(1.057 1.070)"><text x="0" y="0" font-size="16" fill="#111" stroke="#111" stroke-width="0.3" font-style="italic">C1s</text></g><g transform="translate(308.24 191.49) scale(1.014 1.041)"><text x="0" y="0" font-size="17" fill="#111" stroke="#111" stroke-width="0.3">C</text></g><g transform="translate(413.30 181.80) scale(0.996 1.006)"><text x="0" y="0" font-size="12" fill="#111" stroke="#111" stroke-width="0.3" font-style="italic">x1</text></g><g transform="translate(413.30 198.24) scale(1.006 1.059)"><text x="0" y="0" font-size="12" fill="#d21e32" stroke="#d21e32" stroke-width="0.3" font-style="italic">x0.5</text></g><g transform="translate(308.50 267.54) scale(1.070 1.053)"><text x="0" y="0" font-size="17" fill="#111" stroke="#111" stroke-width="0.3">C</text></g><g transform="translate(321.22 258.66) scale(0.959 0.907)"><text x="0" y="0" font-size="11" fill="#111" stroke="#111" stroke-width="0.3">(F in)</text></g><g transform="translate(440.75 251.50) scale(1.000 1.018)"><text x="0" y="0" font-size="12" fill="#111" stroke="#111" stroke-width="0.3" font-style="italic">x1</text></g><g transform="translate(440.76 267.49) scale(1.011 1.029)"><text x="0" y="0" font-size="12" fill="#d21e32" stroke="#d21e32" stroke-width="0.3" font-style="italic">x0.5</text></g><g transform="translate(307.60 330.50) scale(1.042 1.043)"><text x="0" y="0" font-size="16.5" fill="#111" stroke="#111" stroke-width="0.3">F</text></g><g transform="translate(318.94 321.42) scale(0.915 0.878)"><text x="0" y="0" font-size="11" fill="#111" stroke="#111" stroke-width="0.3">(in)</text></g><g transform="translate(440.62 317.54) scale(1.038 1.040)"><text x="0" y="0" font-size="12" fill="#111" stroke="#111" stroke-width="0.3" font-style="italic">x0.1</text></g><g transform="translate(440.61 334.04) scale(1.022 1.040)"><text x="0" y="0" font-size="12" fill="#d21e32" stroke="#d21e32" stroke-width="0.3" font-style="italic">x0.2</text></g><g transform="translate(65.02 390.20) scale(0.990 1.020)"><text x="0" y="0" font-size="17.7" fill="#111" stroke="#111" stroke-width="0.3">BE-E</text></g><g transform="translate(105.88 397.97) scale(1.041 0.924)"><text x="0" y="0" font-size="10" fill="#111" stroke="#111" stroke-width="0.3">Core</text></g><g transform="translate(133.40 389.82) scale(0.940 0.940)"><text x="0" y="0" font-size="17.7" fill="#111" stroke="#111" stroke-width="0.3">/ E</text></g><g transform="translate(154.23 397.60) scale(0.895 1.117)"><text x="0" y="0" font-size="10.5" fill="#111" stroke="#111" stroke-width="0.3">F</text></g><g transform="translate(165.49 390.07) scale(1.011 0.994)"><text x="0" y="0" font-size="17.7" fill="#111" stroke="#111" stroke-width="0.3">(eV)</text></g><g transform="translate(329.92 386.20) scale(0.989 1.030)"><text x="0" y="0" font-size="17.2" fill="#111" stroke="#111" stroke-width="0.3">BE-E</text></g><g transform="translate(369.88 392.64) scale(1.036 1.021)"><text x="0" y="0" font-size="10" fill="#111" stroke="#111" stroke-width="0.3">Core</text></g><g transform="translate(396.90 385.75) scale(0.914 0.914)"><text x="0" y="0" font-size="17.2" fill="#111" stroke="#111" stroke-width="0.3">/ E</text></g><g transform="translate(417.50 393.10) scale(0.933 0.910)"><text x="0" y="0" font-size="10.5" fill="#111" stroke="#111" stroke-width="0.3">F</text></g><g transform="translate(430.09 385.61) scale(0.941 0.941)"><text x="0" y="0" font-size="17.2" fill="#111" stroke="#111" stroke-width="0.3">+</text></g><g transform="translate(445.79 386.35) scale(0.820 0.816)"><text x="0" y="0" font-size="17.2" fill="#111" stroke="#111" stroke-width="0.3" font-style="italic">φ</text></g><g transform="translate(458.79 386.94) scale(1.015 0.987)"><text x="0" y="0" font-size="17.2" fill="#111" stroke="#111" stroke-width="0.3">(eV)</text></g><path d="M209.00 37.75L209.00 43.95M206.32 39.30L211.68 42.40M206.32 42.40L211.68 39.30" stroke="#555" stroke-width="1.3" fill="none"/><path d="M215.00 59.60L215.00 65.80M212.32 61.15L217.68 64.25M212.32 64.25L217.68 61.15" stroke="#2020c8" stroke-width="1.3" fill="none"/><path d="M215.10 85.70L215.10 91.90M212.42 87.25L217.78 90.35M212.42 90.35L217.78 87.25" stroke="#d21e32" stroke-width="1.3" fill="none"/><text transform="translate(13.6 309.7) rotate(-90)" font-size="17.38" fill="#111" stroke="#111" stroke-width="0.3">CPS/pDOS Convolution (Arb. Units)</text><text transform="translate(290.2 297.6) rotate(-90)" font-size="17.5" fill="#111" stroke="#111" stroke-width="0.3">CPS/Valent pDOS (Arb. Units)</text></svg>
</body></html>
